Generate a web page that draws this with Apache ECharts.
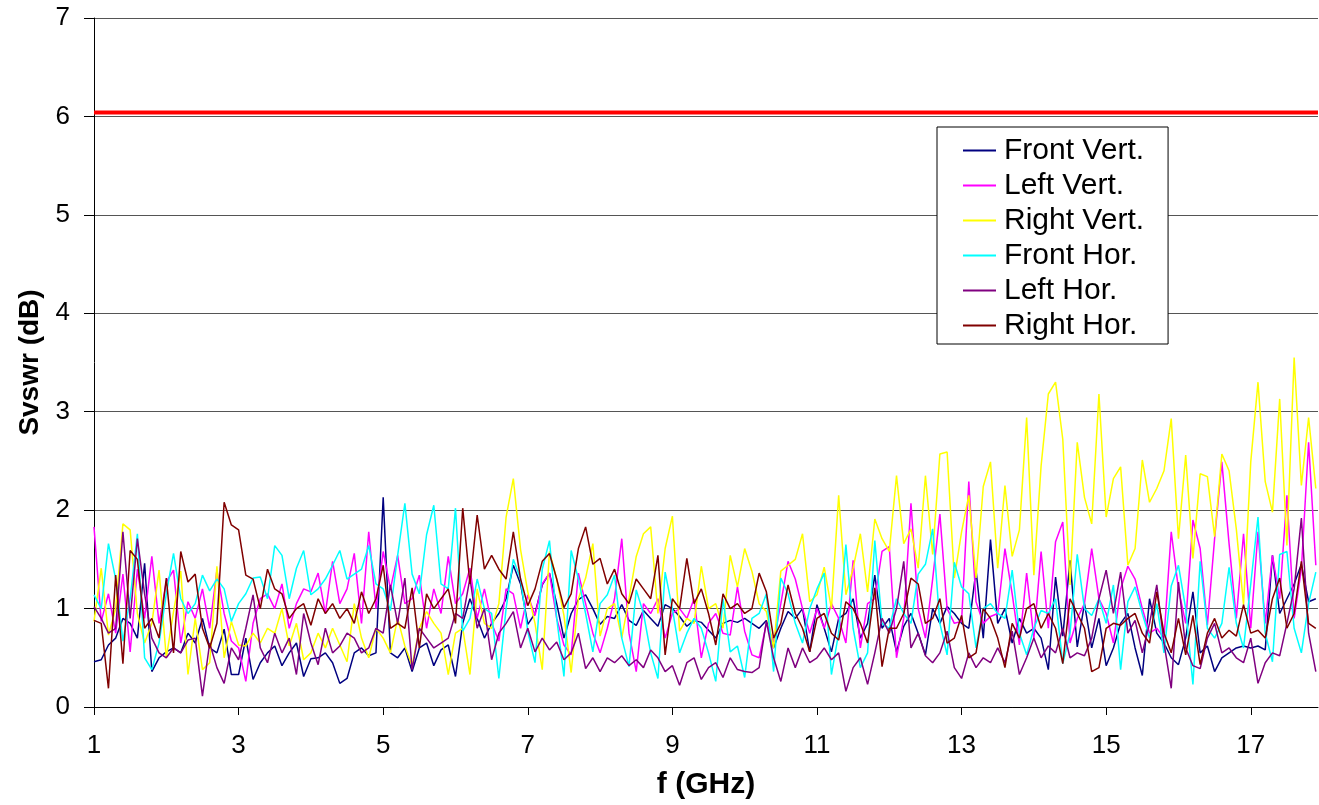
<!DOCTYPE html>
<html>
<head>
<meta charset="utf-8">
<title>Svswr</title>
<script src="https://cdn.jsdelivr.net/npm/echarts@6.0.0/dist/echarts.min.js"></script>
<style>
  html, body { margin: 0; padding: 0; background: #fff; }
  #chart { width: 1319px; height: 805px; }
</style>
</head>
<body>
<div id="chart"></div>
<script>
// frequency grid (GHz): first sample and step between samples
var FREQ_START = 1.0;
var FREQ_STEP = 0.1;

var seriesNames = ['Front Vert.', 'Left Vert.', 'Right Vert.', 'Front Hor.', 'Left Hor.', 'Right Hor.'];
var seriesColors = ['#000080', '#ff00ff', '#ffff00', '#00ffff', '#800080', '#800000'];

// limit line (dB)
var limitValue = 6.04;

// one row per GHz, 10 samples each
var frontVert = [
  0.46,0.48,0.63,0.70,0.90,0.85,0.70,1.46,0.36,0.50,
  0.56,0.60,0.55,0.75,0.65,0.90,0.60,0.55,0.79,0.33,
  0.33,0.70,0.28,0.45,0.55,0.62,0.42,0.55,0.65,0.31,
  0.49,0.50,0.55,0.45,0.24,0.29,0.55,0.60,0.52,0.55,
  2.13,0.55,0.50,0.60,0.36,0.60,0.65,0.42,0.58,0.63,
  0.31,0.85,1.10,0.90,0.70,0.85,0.95,1.10,1.44,1.25,
  0.84,0.95,1.24,1.36,1.05,0.70,0.95,1.09,1.14,1.00,
  0.84,0.92,0.90,1.04,0.88,0.83,0.98,0.90,0.82,1.04,
  1.00,0.92,0.82,0.88,0.86,0.78,0.70,0.85,0.88,0.86,
  0.90,0.85,0.80,0.88,0.60,0.80,0.97,0.90,1.00,0.56,
  1.04,0.80,0.56,0.90,0.95,1.10,0.70,0.85,1.34,0.80,
  0.90,0.56,0.82,0.95,0.75,0.53,1.00,0.85,1.02,0.95,
  0.85,0.80,1.39,0.70,1.70,0.85,1.00,0.65,0.90,0.75,
  0.80,0.70,0.38,1.32,0.72,1.49,0.61,1.05,0.60,0.90,
  0.42,0.60,0.85,0.95,0.60,0.32,1.10,0.75,0.65,0.50,
  0.43,0.70,1.17,0.55,0.62,0.36,0.50,0.55,0.60,0.62,
  0.60,0.62,0.58,1.54,0.95,1.10,1.25,1.45,1.07,1.10
];

var leftVert = [
  1.83,0.87,1.15,0.75,1.35,0.56,1.40,0.90,1.53,0.85,
  1.27,1.39,0.65,1.07,0.90,1.20,0.80,1.39,0.95,0.67,
  0.60,0.26,0.85,1.10,1.15,1.00,1.25,0.80,1.05,1.20,
  1.17,1.36,0.95,1.48,1.05,1.20,1.56,0.85,1.78,1.00,
  1.58,1.20,1.54,1.05,1.10,1.34,0.80,1.20,0.95,1.53,
  1.05,1.15,1.41,0.90,1.20,0.85,0.67,1.20,1.15,0.80,
  1.14,0.93,1.25,1.36,0.90,0.63,0.53,1.36,1.05,0.75,
  0.55,0.80,1.10,1.71,0.75,0.36,1.05,0.95,1.10,0.70,
  0.95,1.00,0.90,1.10,0.50,0.85,0.95,0.75,0.73,1.22,
  0.77,0.53,0.50,0.85,0.66,1.05,1.48,1.30,1.00,0.75,
  1.00,0.80,1.05,0.90,0.65,1.49,0.60,1.05,1.10,1.58,
  1.63,0.50,0.90,2.07,1.00,0.70,1.30,1.96,1.00,0.85,
  0.87,2.29,1.07,0.85,0.92,0.95,1.61,1.15,0.63,1.36,
  0.70,1.58,0.80,1.68,1.88,0.65,0.90,1.05,1.61,1.10,
  0.95,0.65,1.20,1.43,1.30,1.00,0.75,0.80,0.70,1.78,
  1.20,0.85,1.90,1.61,0.83,1.71,2.49,1.66,0.90,1.76,
  0.80,1.78,0.85,1.54,1.10,2.15,0.90,1.40,2.69,1.44
];

var rightVert = [
  0.87,1.41,0.73,1.00,1.86,1.80,0.95,0.65,0.85,1.39,
  0.50,0.97,1.38,0.33,0.90,0.38,0.45,1.43,0.50,0.87,
  0.63,0.62,0.75,0.65,0.80,0.75,1.00,0.62,0.85,0.48,
  0.55,0.75,0.60,0.80,0.63,0.46,1.05,0.70,0.50,0.80,
  0.70,0.55,0.90,0.62,0.42,0.80,0.97,0.85,0.75,0.33,
  0.75,0.80,0.33,1.20,0.85,0.80,1.05,1.93,2.32,1.60,
  1.17,0.85,0.38,1.58,1.30,0.93,0.35,1.10,1.31,1.66,
  0.72,1.00,1.05,0.70,1.10,1.53,1.76,1.83,0.95,1.61,
  1.94,0.77,0.90,0.85,1.43,1.00,1.05,0.80,1.54,1.22,
  1.61,1.38,1.05,0.97,0.60,1.38,1.44,1.50,1.76,1.07,
  1.14,1.42,1.00,2.15,1.14,1.41,1.76,1.17,1.91,1.71,
  1.58,2.35,1.66,1.81,1.41,2.35,1.55,2.57,2.59,1.31,
  1.78,2.15,1.31,2.24,2.49,1.41,2.25,1.53,1.80,2.94,
  1.34,2.45,3.18,3.30,2.72,1.24,2.69,2.13,1.86,3.18,
  1.93,2.32,2.44,1.44,1.61,2.51,2.08,2.22,2.40,2.93,
  1.71,2.56,1.51,2.37,2.34,1.73,2.57,2.40,1.81,1.04,
  2.49,3.30,2.29,1.98,3.13,1.64,3.55,2.25,2.94,2.22
];

var frontHor = [
  1.14,1.00,1.66,1.30,0.67,1.10,1.76,0.50,0.38,0.65,
  1.15,1.56,1.10,0.95,1.05,1.34,1.18,1.30,1.20,0.87,
  1.05,1.15,1.31,1.32,1.10,1.64,1.54,1.10,1.41,1.59,
  1.14,1.20,1.30,1.44,1.59,1.30,1.35,1.40,1.64,1.25,
  1.20,0.98,1.54,2.07,1.35,1.15,1.75,2.05,1.25,1.20,
  2.02,0.77,0.90,1.30,1.00,0.95,0.29,1.00,1.50,1.30,
  0.77,0.45,1.40,1.69,0.90,0.31,1.59,1.30,0.95,0.56,
  1.05,1.14,1.34,0.70,0.41,1.19,0.95,0.55,0.29,1.37,
  1.00,0.55,0.75,0.90,0.80,0.55,0.26,1.10,0.56,0.62,
  0.30,0.90,0.95,1.15,0.36,1.31,1.15,0.85,0.65,1.00,
  1.20,1.36,0.33,0.75,1.65,0.80,0.40,0.55,1.69,0.85,
  0.80,1.10,0.95,0.85,1.35,1.45,1.81,0.85,0.53,1.47,
  1.22,1.15,0.60,1.00,1.05,0.95,0.90,1.39,0.75,0.53,
  0.80,0.98,0.95,1.10,0.44,0.75,1.55,1.00,0.93,1.10,
  0.85,1.24,0.38,1.07,1.22,0.95,0.70,1.05,0.55,1.23,
  1.44,1.00,0.23,1.48,0.80,0.70,0.85,1.42,0.85,0.60,
  1.25,1.93,0.75,0.46,1.55,1.58,0.80,0.55,1.05,1.37
];

var leftHor = [
  1.02,0.90,0.75,0.80,1.78,0.90,1.71,1.15,0.70,0.55,
  0.50,0.60,0.55,0.68,0.70,0.11,0.65,0.40,0.24,0.60,
  0.48,0.80,1.14,0.60,0.45,0.75,0.55,0.70,0.33,0.95,
  0.65,0.43,0.80,0.55,0.62,0.75,0.70,0.55,0.60,0.80,
  0.75,1.24,0.85,1.31,0.38,0.80,0.70,0.60,0.65,0.70,
  0.95,0.90,1.31,0.80,1.00,0.48,0.75,0.85,0.97,0.60,
  0.80,0.56,0.70,0.58,0.66,0.48,0.55,0.75,0.39,0.50,
  0.36,0.50,0.45,0.52,0.42,0.48,0.40,0.58,0.50,0.36,
  0.42,0.22,0.45,0.50,0.28,0.40,0.45,0.30,0.50,0.38,
  0.36,0.35,0.40,0.87,0.50,0.26,0.60,0.40,0.60,0.45,
  0.50,0.60,0.48,0.55,0.16,0.40,0.50,0.23,0.55,0.90,
  0.75,1.00,1.48,0.60,0.75,0.52,0.45,0.55,0.77,0.40,
  0.29,0.55,0.40,0.50,0.45,0.60,0.45,0.77,0.33,0.50,
  0.70,0.50,0.62,0.55,0.80,0.50,0.55,0.52,0.70,1.10,
  1.39,0.95,1.37,0.75,0.88,0.55,0.85,1.24,0.65,0.19,
  1.27,0.60,0.42,0.39,0.70,0.85,0.55,0.60,0.50,0.45,
  0.70,0.24,0.45,0.55,0.52,0.85,1.20,1.92,0.75,0.36
];

var rightHor = [
  0.88,0.85,0.19,1.34,0.44,1.59,1.50,0.80,0.90,0.70,
  1.31,0.55,1.58,1.27,1.35,0.80,0.60,0.85,2.08,1.85,
  1.80,1.34,1.30,1.00,1.40,1.20,1.15,0.90,1.00,1.05,
  0.83,1.10,0.95,1.05,0.90,1.00,0.85,1.17,0.95,1.10,
  1.44,0.80,0.85,0.80,1.21,0.60,1.15,1.00,1.10,1.20,
  0.85,2.02,1.25,1.95,1.40,1.54,1.40,1.30,1.78,1.30,
  1.03,1.20,1.48,1.56,1.30,1.01,1.15,1.61,1.83,1.45,
  1.51,1.25,1.40,1.15,1.05,1.30,1.20,1.10,1.54,0.53,
  1.10,1.00,1.51,1.05,1.20,0.95,0.63,1.15,1.00,1.05,
  0.95,1.00,1.36,1.17,0.70,0.85,1.24,0.95,0.80,0.56,
  0.90,0.95,0.75,0.68,1.07,1.00,0.85,0.65,1.21,0.41,
  0.80,0.80,0.95,1.31,1.25,0.85,0.90,1.10,0.65,0.70,
  0.93,0.50,0.55,1.00,0.90,0.70,0.40,0.85,0.70,1.00,
  1.05,0.80,0.95,0.80,0.44,1.10,0.95,0.80,0.36,0.40,
  0.80,0.85,0.83,0.90,0.95,0.75,0.65,1.17,0.75,0.55,
  0.90,0.53,0.93,0.43,0.75,0.90,0.70,0.78,0.72,1.04,
  0.75,0.78,0.70,1.10,1.31,0.80,0.95,1.48,0.85,0.80
];

var xTickLabels = ['1', '3', '5', '7', '9', '11', '13', '15', '17'];
var yTickLabels = ['0', '1', '2', '3', '4', '5', '6', '7'];

var X_MIN = 1, X_MAX = 17.93;
var FONT = '"Liberation Sans", Arial, sans-serif';

var freq = [];
for (var i = 0; i < frontVert.length; i++) {
  freq.push(Math.round((FREQ_START + i * FREQ_STEP) * 100) / 100);
}

function pairs(values) {
  return values.map(function (v, k) { return [freq[k], v]; });
}

var chart = echarts.init(document.getElementById('chart'));

var allValues = [frontVert, leftVert, rightVert, frontHor, leftHor, rightHor];
var series = [{
  name: 'limit',
  type: 'line',
  data: [[X_MIN, limitValue], [X_MAX, limitValue]],
  symbol: 'none',
  silent: true,
  lineStyle: {color: '#ff0000', width: 4}
}];
allValues.forEach(function (vals, k) {
  series.push({
    name: seriesNames[k],
    type: 'line',
    data: pairs(vals),
    symbol: 'none',
    color: seriesColors[k],
    lineStyle: {color: seriesColors[k], width: 1.5}
  });
});

var option = {
  animation: false,
  backgroundColor: '#ffffff',
  textStyle: {fontFamily: FONT},
  grid: {left: 94, right: 1, top: 18, bottom: 98},
  legend: {
    data: seriesNames,
    orient: 'vertical',
    left: 937,
    top: 127,
    padding: [6, 24, 1, 26],
    itemGap: 0,
    itemWidth: 33,
    itemHeight: 2,
    icon: 'rect',
    selectedMode: false,
    backgroundColor: '#ffffff',
    borderColor: '#000000',
    borderWidth: 1,
    borderRadius: 0,
    textStyle: {fontFamily: FONT, fontSize: 30, color: '#000', lineHeight: 35, padding: [0, 0, 0, 3]}
  },
  xAxis: {
    type: 'value',
    min: X_MIN,
    max: X_MAX,
    interval: 2,
    name: 'f (GHz)',
    nameLocation: 'middle',
    nameGap: 63,
    nameTextStyle: {fontFamily: FONT, fontSize: 30, fontWeight: 'bold', color: '#000'},
    axisLine: {lineStyle: {color: '#000', width: 1}},
    axisTick: {length: 8, lineStyle: {color: '#000'}},
    axisLabel: {
      fontFamily: FONT, fontSize: 26, color: '#000', margin: 26,
      showMaxLabel: false,
      formatter: function (v) {
        var s = String(Math.round(v));
        return xTickLabels.indexOf(s) >= 0 && Math.abs(v - Math.round(v)) < 1e-6 ? s : '';
      }
    },
    splitLine: {show: false}
  },
  yAxis: {
    type: 'value',
    min: 0,
    max: 7,
    interval: 1,
    name: 'Svswr (dB)',
    nameLocation: 'middle',
    nameGap: 43,
    nameTextStyle: {fontFamily: FONT, fontSize: 28, fontWeight: 'bold', color: '#000'},
    axisLine: {show: true, lineStyle: {color: '#000', width: 1}},
    axisTick: {show: true, length: 10, lineStyle: {color: '#000'}},
    axisLabel: {
      fontFamily: FONT, fontSize: 26, color: '#000', margin: 24,
      formatter: function (v) { return yTickLabels[Math.round(v)]; }
    },
    splitLine: {show: true, lineStyle: {color: '#555', width: 1}}
  },
  series: series
};

chart.setOption(option);
</script>
</body>
</html>
